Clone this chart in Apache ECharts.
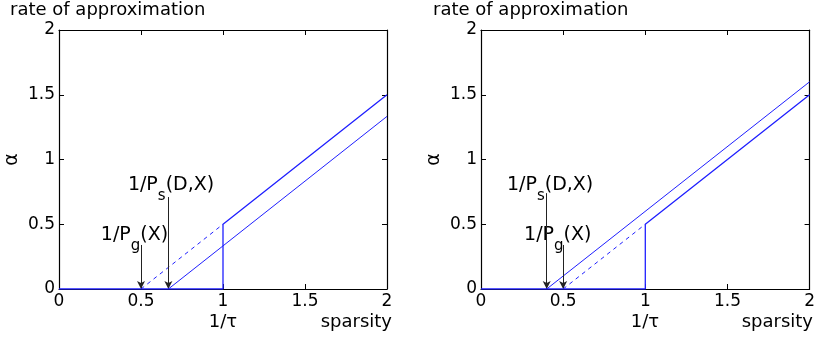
<!DOCTYPE html>
<html>
<head>
<meta charset="utf-8">
<script src="https://cdn.jsdelivr.net/npm/echarts@6/dist/echarts.min.js"></script>
<style>
  html, body { margin: 0; padding: 0; background: #fff; }
  #chart { width: 818px; height: 338px; }
</style>
</head>
<body>
<div id="chart"></div>
<script>
// tick values shared by both panels
const ticks = [0, 0.5, 1, 1.5, 2];

// left panel
const leftStep = [[0, 0], [1, 0], [1, 0.5], [2, 1.5]];
const leftDash = [[0.5, 0], [1, 0.5]];
const leftLine = [[0.667, 0], [2, 1.333]];
const leftArrows = [[0.5, 0.34], [0.667, 0.71]];   // [x, top of arrow]
const leftLabels = [
  { pos: [0.255, 0.38], text: '1/P{s|g}(X)' },
  { pos: [0.42, 0.77], text: '1/P{s|s}(D,X)' }
];

// right panel
const rightStep = [[0, 0], [1, 0], [1, 0.5], [2, 1.5]];
const rightDash = [[0.5, 0], [1, 0.5]];
const rightLine = [[0.4, 0], [2, 1.6]];
const rightArrows = [[0.4, 0.74], [0.5, 0.34]];
const rightLabels = [
  { pos: [0.262, 0.38], text: '1/P{s|g}(X)' },
  { pos: [0.158, 0.77], text: '1/P{s|s}(D,X)' }
];

const FONT = 'DejaVu Sans';
const BLUE = '#1f1fff';

const chart = echarts.init(document.getElementById('chart'));

const grids = [
  { left: 59, top: 30, width: 328, height: 259 },
  { left: 481, top: 30, width: 329, height: 259 }
];

const xAxis = [];
const yAxis = [];
const series = [];

// wrap the plain parts of a label in the normal rich style
function richText(t) {
  return t.replace(/^([^{]*)/, '{n|$1}').replace(/\}([^{}]+)$/, '}{n|$1}');
}

function panel(i, step, dash, line, arrows, labels) {
  const base = {
    gridIndex: i, type: 'value', min: 0, max: 2, interval: 0.5,
    splitLine: { show: false },
    axisLine: { show: true, onZero: false, lineStyle: { color: '#000', width: 1.2 } },
    axisTick: { show: true, inside: true, length: 5, lineStyle: { color: '#000' } }
  };
  xAxis.push(Object.assign({}, base, {
    position: 'bottom',
    axisLabel: { color: '#000', fontFamily: FONT, fontSize: 17, margin: 4,
      formatter: v => ticks.includes(v) ? String(v) : '' }
  }));
  xAxis.push(Object.assign({}, base, { position: 'top', axisLabel: { show: false } }));
  yAxis.push(Object.assign({}, base, {
    position: 'left',
    name: 'α', nameLocation: 'middle', nameGap: 37, nameRotate: 90,
    nameTextStyle: { color: '#000', fontFamily: FONT, fontSize: 19 },
    axisLabel: { color: '#000', fontFamily: FONT, fontSize: 17, margin: 4 }
  }));
  yAxis.push(Object.assign({}, base, { position: 'right', axisLabel: { show: false } }));

  const xi = i * 2, yi = i * 2;
  const common = { xAxisIndex: xi, yAxisIndex: yi, type: 'line', symbol: 'none', silent: true,
    animation: false };

  series.push(Object.assign({}, common, {
    data: step, lineStyle: { color: BLUE, width: 1.3 }, z: 5
  }));
  series.push(Object.assign({}, common, {
    data: dash, lineStyle: { color: BLUE, width: 1, type: [4, 4] }
  }));
  series.push(Object.assign({}, common, {
    data: line, lineStyle: { color: BLUE, width: 1 },
    markLine: {
      silent: true, animation: false,
      symbol: ['none', 'arrow'], symbolSize: [6, 8],
      label: { show: false },
      lineStyle: { color: '#222', width: 1, type: 'solid' },
      data: arrows.map(a => [{ coord: [a[0], a[1]] }, { coord: [a[0], 0] }])
    }
  }));
  series.push({
    type: 'scatter', xAxisIndex: xi, yAxisIndex: yi, symbolSize: 0, silent: true,
    animation: false,
    itemStyle: { opacity: 1 },
    data: labels.map(l => ({ value: l.pos, name: richText(l.text) })),
    label: {
      show: true, position: 'inside', align: 'left', verticalAlign: 'bottom',
      offset: [0, 6], color: '#000', textBorderWidth: 0,
      rich: {
        n: { fontFamily: FONT, fontSize: 19, color: '#000', lineHeight: 20, verticalAlign: 'top' },
        s: { fontFamily: FONT, fontSize: 15, color: '#000', lineHeight: 16, padding: [13, 0, 0, 0], verticalAlign: 'top' }
      },
      formatter: p => p.name
    }
  });
}

panel(0, leftStep, leftDash, leftLine, leftArrows, leftLabels);
panel(1, rightStep, rightDash, rightLine, rightArrows, rightLabels);

const textStyle = { fill: '#000', fontFamily: FONT, fontSize: 18 };
const graphic = [
  { type: 'text', left: 10, top: 1, style: Object.assign({ text: 'rate of approximation' }, textStyle) },
  { type: 'text', left: 433, top: 1, style: Object.assign({ text: 'rate of approximation' }, textStyle) },
  { type: 'text', x: 223, y: 322, style: Object.assign({ text: '1/τ', align: 'center', verticalAlign: 'middle' }, textStyle) },
  { type: 'text', x: 392, y: 322, style: Object.assign({ text: 'sparsity', align: 'right', verticalAlign: 'middle' }, textStyle) },
  { type: 'text', x: 645, y: 322, style: Object.assign({ text: '1/τ', align: 'center', verticalAlign: 'middle' }, textStyle) },
  { type: 'text', x: 813, y: 322, style: Object.assign({ text: 'sparsity', align: 'right', verticalAlign: 'middle' }, textStyle) }
];

chart.setOption({
  animation: false,
  grid: grids,
  xAxis: xAxis,
  yAxis: yAxis,
  series: series,
  graphic: graphic
});
</script>
</body>
</html>
